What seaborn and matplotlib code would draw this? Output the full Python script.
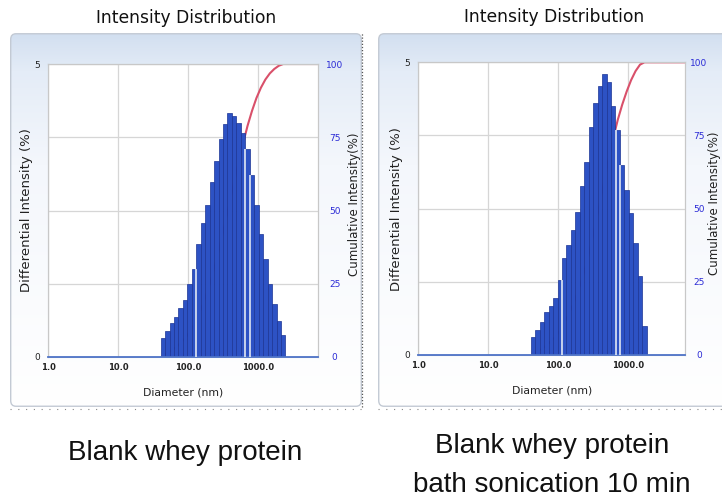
import numpy as np
import matplotlib
matplotlib.use("Agg")
import matplotlib.pyplot as plt
from matplotlib.colors import LinearSegmentedColormap
from matplotlib.patches import FancyBboxPatch
from matplotlib.ticker import NullLocator, FixedLocator, FixedFormatter
import seaborn as sns

# ---------------- data ----------------
diameter_nm = [43.82, 50.75, 58.77, 68.06, 78.82, 91.28, 105.7, 122.4, 141.8, 164.2,
               190.1, 220.2, 255.0, 295.3, 342.0, 396.1, 458.7, 531.2, 615.1, 712.4,
               825.0, 955.4, 1106, 1281, 1484, 1718, 1990, 2305]
tail_diameter_nm = [2669, 3091, 3580, 4145, 4801, 5560, 6439, 7456]

intensity_blank = [0.32, 0.45, 0.58, 0.68, 0.83, 0.97, 1.25, 1.50, 1.93, 2.28,
                   2.60, 2.98, 3.35, 3.72, 3.97, 4.16, 4.12, 4.00, 3.82, 3.55,
                   3.10, 2.60, 2.10, 1.68, 1.25, 0.90, 0.62, 0.38]
cumulative_blank = [0.5, 1.3, 2.3, 3.4, 4.8, 6.4, 8.5, 11.0, 14.3, 18.1,
                    22.4, 27.4, 33.0, 39.3, 45.9, 52.9, 59.8, 66.5, 72.9, 78.9,
                    84.0, 88.4, 91.9, 94.7, 96.8, 98.3, 99.4, 100.0]

intensity_sonicated = [0.31, 0.43, 0.57, 0.74, 0.84, 0.97, 1.28, 1.65, 1.88, 2.14,
                       2.45, 2.88, 3.30, 3.90, 4.30, 4.60, 4.80, 4.66, 4.25, 3.85,
                       3.25, 2.82, 2.42, 1.91, 1.35, 0.50]
cumulative_sonicated = [0.5, 1.2, 2.1, 3.3, 4.7, 6.2, 8.3, 10.9, 14.0, 17.4,
                        21.4, 26.0, 31.3, 37.6, 44.5, 52.0, 59.7, 67.2, 74.1, 80.3,
                        85.5, 90.0, 93.9, 97.0, 99.2, 100.0]

gaps_blank = [8, 19, 20]
gaps_sonicated = [7, 19, 20]

x_ticks = [1, 10, 100, 1000]
x_tick_labels = ["1.0", "10.0", "100.0", "1000.0"]
left_ticks = [0, 5]
right_ticks = [0, 25, 50, 75, 100]

title_text = "Intensity Distribution"
xlabel_text = "Diameter (nm)"
ylabel_left = "Differential Intensity (%)"
ylabel_right = "Cumulative Intensity(%)"
caption_blank = "Blank whey protein"
caption_sonicated_1 = "Blank whey protein"
caption_sonicated_2 = "bath sonication 10 min"

# ---------------- style ----------------
sns.set_theme(style="white")
plt.rcParams["font.family"] = ["DejaVu Sans"]

W, H = 722, 503
fig = plt.figure(figsize=(W / 100, H / 100), dpi=100)
fig.patch.set_facecolor("white")

BAR = "#2d52c4"
BAR_EDGE = "#1c3494"
RED = "#d9506a"
BLUE_TXT = "#2b2bd6"
GRID = "#d6d6d6"

bg_cmap = LinearSegmentedColormap.from_list(
    "bg", [(0, "#d2dff0"), (0.10, "#e4ecf7"), (0.35, "#f4f7fc"), (1, "#ffffff")])


def draw_panel(box, rect, xmax, sizes, heights, cum, gaps,
               lab_x_left, lab_x_right, right_pad, dotted):
    x0, y0, x1, y1 = box
    bx = fig.add_axes([x0 / W, 1 - y1 / H, (x1 - x0) / W, (y1 - y0) / H], zorder=0)
    bx.set_xlim(0, 1)
    bx.set_ylim(0, 1)
    bx.axis("off")
    patch = FancyBboxPatch((0.002, 0.002), 0.996, 0.996,
                           boxstyle="round,pad=0,rounding_size=0.015",
                           transform=bx.transAxes, facecolor="none",
                           edgecolor="#c3cad4", lw=1.0, zorder=2)
    grad = np.linspace(0, 1, 256).reshape(-1, 1)
    img = bx.imshow(grad, extent=(0, 1, 0, 1), origin="upper", cmap=bg_cmap,
                    aspect="auto", vmin=0, vmax=1, zorder=1)
    bx.add_patch(patch)
    img.set_clip_path(patch)
    if dotted:
        bx.plot([1.0, 1.0], [0.0, 1.0], transform=bx.transAxes, ls=(0, (1, 1.5)),
                color="#555555", lw=0.9, clip_on=False, zorder=3)
    bx.plot([0.0, 1.0], [-0.006, -0.006], transform=bx.transAxes, ls=(0, (1, 6)),
            color="#888888", lw=0.8, clip_on=False, zorder=3)

    ax = fig.add_axes(rect, zorder=2)
    ax.set_facecolor("white")
    ax.set_xscale("log")
    tail = [t for t in tail_diameter_nm if t > sizes[-1]]
    sns.lineplot(x=list(sizes) + tail, y=list(cum) + [100.0] * len(tail),
                 ax=ax, color=RED, lw=1.5)
    ax.set_ylim(0, 100)
    ax.grid(True, color=GRID, lw=0.9)

    ax2 = ax.twinx()
    step = np.log10(sizes[1] / sizes[0])
    lo = np.log10(sizes[0]) - step / 2
    hi = np.log10(sizes[-1]) + step / 2
    sns.histplot(x=sizes, weights=heights, log_scale=True, binwidth=step,
                 binrange=(lo, hi), stat="count", element="bars", fill=True,
                 color=BAR, edgecolor=BAR_EDGE, linewidth=0.5, alpha=1.0, ax=ax2)
    for g in gaps:
        xe = np.sqrt(sizes[g - 1] * sizes[g])
        ax2.vlines(xe, 0, min(heights[g - 1], heights[g]), color="#e3eaf7", lw=1.2, zorder=3)
    ax2.set_ylim(0, 5)
    ax2.grid(False)

    # axes: cumulative on the right, differential on the left
    ax.yaxis.tick_right()
    ax.yaxis.set_label_position("right")
    ax2.yaxis.tick_left()
    ax2.yaxis.set_label_position("left")

    ax.set_yticks(right_ticks)
    ax.set_yticklabels([str(t) for t in right_ticks])
    for lab in ax.get_yticklabels():
        lab.set_horizontalalignment("center")
    ax.tick_params(axis="y", colors=BLUE_TXT, labelsize=6.5, length=0, pad=right_pad,
                   left=False, labelleft=False, right=True, labelright=True)

    ax2.set_yticks(left_ticks)
    ax2.set_yticklabels([str(t) for t in left_ticks])
    ax2.tick_params(axis="y", labelsize=6.5, length=0, pad=6, colors="#222222",
                    left=True, labelleft=True, right=False, labelright=False)

    ax.xaxis.set_major_locator(FixedLocator(x_ticks))
    ax.xaxis.set_major_formatter(FixedFormatter(x_tick_labels))
    ax.xaxis.set_minor_locator(NullLocator())
    ax.tick_params(axis="x", labelsize=6, length=0, pad=4, colors="#222222")
    for lab in ax.get_xticklabels():
        lab.set_fontweight("bold")
    ax.set_xlim(1, xmax)

    ax.set_xlabel(xlabel_text, fontsize=7.8, color="#222222")
    ax.xaxis.set_label_coords(0.5, -0.105)
    ax.set_ylabel(ylabel_right, fontsize=8.5, color="#222222")
    ax.yaxis.set_label_coords(lab_x_right, 0.52)
    ax2.set_ylabel(ylabel_left, fontsize=9.5, color="#222222")
    ax2.yaxis.set_label_coords(lab_x_left, 0.5)
    ax2.set_xlabel("")

    for axx in (ax, ax2):
        for s in axx.spines.values():
            s.set_color("#c8c8c8")
            s.set_linewidth(0.8)
    ax2.spines["bottom"].set_color("#4f74c8")
    ax2.spines["bottom"].set_linewidth(1.3)
    return ax


def px_rect(xl, xr, yt, yb):
    return [xl / W, 1 - yb / H, (xr - xl) / W, (yb - yt) / H]


draw_panel((10, 33, 362, 407), px_rect(48, 318, 64, 357), 7244,
           diameter_nm, intensity_blank, cumulative_blank, gaps_blank,
           -0.055, 1.111, 12, True)
draw_panel((378, 33, 740, 407), px_rect(418.3, 685, 62.3, 355), 6530,
           diameter_nm[:len(intensity_sonicated)], intensity_sonicated,
           cumulative_sonicated, gaps_sonicated, -0.058, 1.088, 10, False)

fig.text(186 / W, 1 - 18 / H, title_text, ha="center", va="center", fontsize=12.3, color="#111111")
fig.text(554 / W, 1 - 17 / H, title_text, ha="center", va="center", fontsize=12.3, color="#111111")

fig.text(185 / W, 1 - 453 / H, caption_blank, ha="center", va="center", fontsize=20,
         family=["Liberation Sans"], color="#111111")
fig.text(552 / W, 1 - 446 / H, caption_sonicated_1, ha="center", va="center", fontsize=20,
         family=["Liberation Sans"], color="#111111")
fig.text(552 / W, 1 - 485 / H, caption_sonicated_2, ha="center", va="center", fontsize=20,
         family=["Liberation Sans"], color="#111111")

fig.savefig("out.png", dpi=100, facecolor="white")
